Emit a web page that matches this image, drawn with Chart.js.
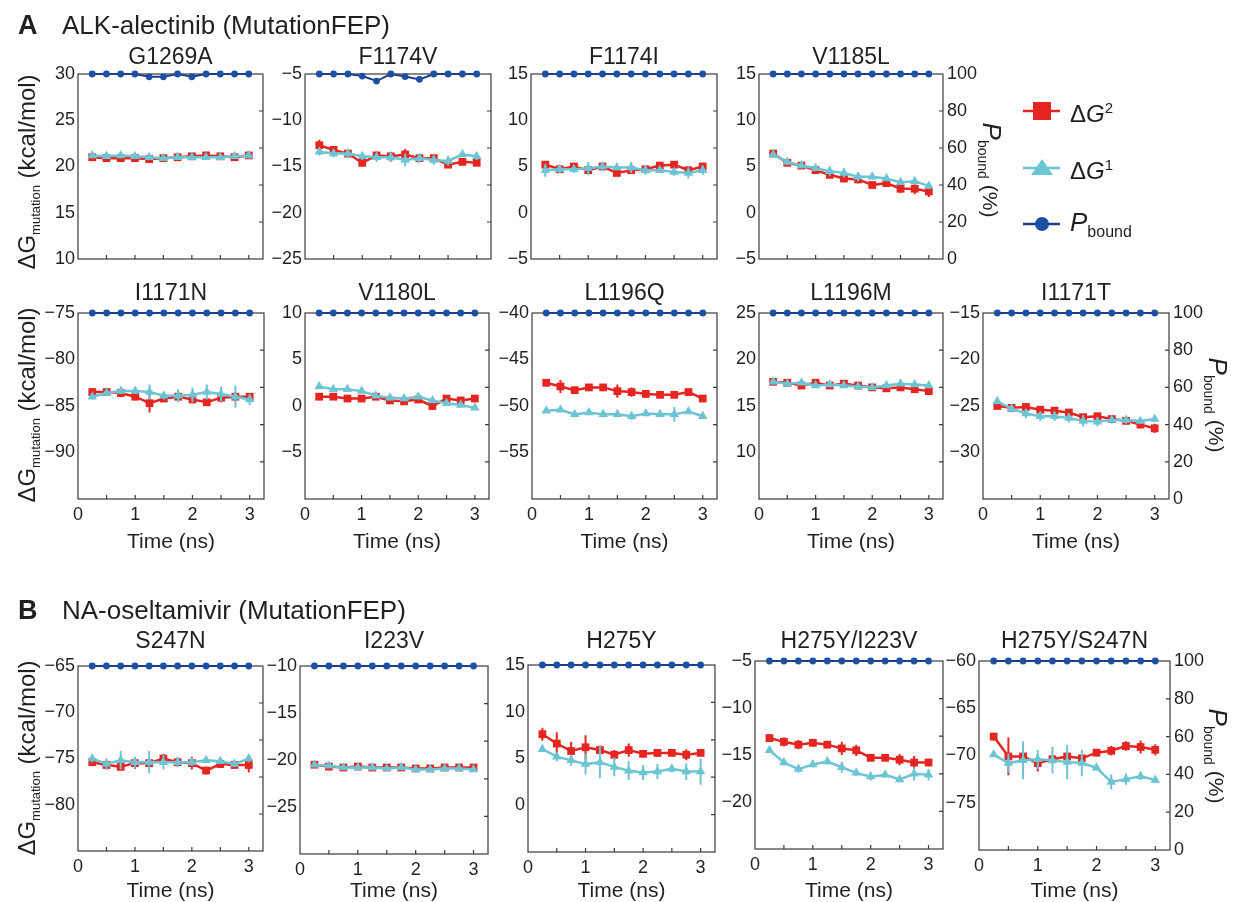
<!DOCTYPE html>
<html>
<head>
<meta charset="utf-8">
<script src="https://cdn.jsdelivr.net/npm/chart.js@4.4.0/dist/chart.umd.min.js"></script>
<style>
  body { margin: 0; background: #fff; width: 1241px; height: 902px; position: relative; overflow: hidden; }
  canvas { position: absolute; left: 0; top: 0; }
</style>
</head>
<body>
<script>
// sampling times (ns)
const time = [0.25, 0.5, 0.75, 1, 1.25, 1.5, 1.75, 2, 2.25, 2.5, 2.75, 3];
const xMinorTicks = [0.5, 1, 1.5, 2, 2.5, 3];
const xLabelTicks = [0, 1, 2, 3];
const pbTicks = [0, 20, 40, 60, 80, 100];
const pbMinorTicks = [20, 40, 60, 80];

const pbFull = [100, 100, 100, 100, 100, 100, 100, 100, 100, 100, 100, 100];

// ALK-alectinib
const g1269aDG2 = [21.0, 20.9, 20.9, 20.9, 20.8, 20.9, 21.0, 21.1, 21.2, 21.1, 21.0, 21.2];
const g1269aDG2Err = [0.3, 0.3, 0.3, 0.3, 0.25, 0.3, 0.3, 0.3, 0.3, 0.3, 0.3, 0.3];
const g1269aDG1 = [21.2, 21.1, 21.2, 21.1, 21.0, 20.9, 21.0, 21.0, 21.0, 21.0, 21.1, 21.2];
const g1269aDG1Err = [0.3, 0.25, 0.3, 0.3, 0.3, 0.25, 0.3, 0.25, 0.3, 0.25, 0.3, 0.3];
const g1269aPb = [100, 100, 100, 100, 98.5, 98.5, 100, 98.5, 100, 100, 100, 100];

const f1174vDG2 = [-12.7, -13.2, -13.6, -14.6, -13.8, -13.9, -13.7, -14.1, -14.1, -14.8, -14.5, -14.6];
const f1174vDG2Err = [0.6, 0.4, 0.4, 0.4, 0.4, 0.5, 0.6, 0.4, 0.4, 0.3, 0.3, 0.3];
const f1174vDG1 = [-13.4, -13.6, -13.6, -13.9, -14.0, -14.0, -14.3, -14.1, -14.3, -14.4, -13.7, -13.9];
const f1174vDG1Err = [0.4, 0.4, 0.4, 0.4, 0.5, 0.5, 0.7, 0.5, 0.5, 0.5, 0.3, 0.4];
const f1174vPb = [100, 100, 100, 98.9, 96.2, 100, 98.6, 97.1, 100, 100, 100, 100];

const f1174iDG2 = [5.2, 4.7, 5.0, 4.6, 5.0, 4.3, 4.6, 4.7, 5.1, 5.2, 4.6, 5.0];
const f1174iDG2Err = [0.4, 0.3, 0.3, 0.4, 0.4, 0.3, 0.3, 0.3, 0.3, 0.3, 0.3, 0.4];
const f1174iDG1 = [4.6, 4.7, 4.7, 4.8, 5.0, 4.9, 4.9, 4.6, 4.6, 4.4, 4.3, 4.6];
const f1174iDG1Err = [0.7, 0.4, 0.4, 0.7, 0.5, 0.3, 0.6, 0.5, 0.3, 0.4, 0.6, 0.5];

const v1185lDG2 = [6.4, 5.4, 5.1, 4.6, 4.1, 3.7, 3.6, 3.0, 3.2, 2.6, 2.6, 2.3];
const v1185lDG2Err = [0.3, 0.3, 0.3, 0.3, 0.3, 0.4, 0.4, 0.3, 0.3, 0.5, 0.6, 0.6];
const v1185lDG1 = [6.3, 5.5, 5.1, 4.8, 4.5, 4.3, 3.9, 3.9, 3.7, 3.3, 3.4, 2.9];
const v1185lDG1Err = [0.3, 0.3, 0.3, 0.3, 0.5, 0.5, 0.5, 0.3, 0.3, 0.3, 0.4, 0.3];

const i1171nDG2 = [-83.5, -83.5, -83.6, -84.0, -84.7, -84.2, -84.0, -84.3, -84.6, -84.1, -84.0, -84.0];
const i1171nDG2Err = [0.4, 0.3, 0.4, 0.3, 1.0, 0.3, 0.5, 0.4, 0.4, 0.5, 0.5, 0.4];
const i1171nDG1 = [-84.0, -83.6, -83.4, -83.4, -83.5, -83.9, -83.9, -83.8, -83.5, -83.7, -84.0, -84.3];
const i1171nDG1Err = [0.3, 0.3, 0.3, 0.3, 0.8, 0.4, 0.7, 0.8, 0.8, 0.8, 1.2, 0.6];

const v1180lDG2 = [1.0, 1.0, 0.8, 0.8, 1.0, 0.6, 0.5, 0.7, 0.0, 0.8, 0.6, 0.8];
const v1180lDG2Err = [0.3, 0.3, 0.3, 0.3, 0.3, 0.3, 0.3, 0.3, 0.4, 0.3, 0.3, 0.3];
const v1180lDG1 = [2.1, 1.8, 1.8, 1.6, 1.1, 0.9, 0.8, 1.0, 0.6, 0.3, 0.1, -0.2];
const v1180lDG1Err = [0.2, 0.2, 0.2, 0.2, 0.2, 0.3, 0.3, 0.2, 0.2, 0.3, 0.3, 0.2];

const l1196qDG2 = [-47.5, -47.9, -48.3, -48.0, -48.0, -48.4, -48.5, -48.7, -48.8, -48.8, -48.5, -49.2];
const l1196qDG2Err = [0.4, 0.7, 0.3, 0.3, 0.3, 0.7, 0.5, 0.4, 0.3, 0.3, 0.3, 0.3];
const l1196qDG1 = [-50.5, -50.4, -50.9, -50.7, -50.9, -50.9, -51.1, -50.8, -50.9, -50.9, -50.6, -51.1];
const l1196qDG1Err = [0.2, 0.2, 0.3, 0.3, 0.3, 0.3, 0.4, 0.3, 0.3, 0.8, 0.2, 0.2];

const l1196mDG2 = [17.6, 17.5, 17.2, 17.5, 17.2, 17.4, 17.2, 17.0, 16.9, 17.0, 16.8, 16.6];
const l1196mDG2Err = [0.3, 0.3, 0.3, 0.3, 0.3, 0.3, 0.3, 0.3, 0.3, 0.3, 0.3, 0.3];
const l1196mDG1 = [17.6, 17.4, 17.5, 17.2, 17.3, 17.2, 17.1, 17.0, 17.2, 17.4, 17.3, 17.2];
const l1196mDG1Err = [0.3, 0.3, 0.2, 0.2, 0.2, 0.2, 0.2, 0.2, 0.2, 0.2, 0.2, 0.2];

const i1171tDG2 = [-25.0, -25.2, -25.1, -25.4, -25.5, -25.7, -26.2, -26.1, -26.4, -26.6, -27.0, -27.4];
const i1171tDG2Err = [0.3, 0.3, 0.3, 0.3, 0.3, 0.3, 0.3, 0.3, 0.3, 0.3, 0.4, 0.5];
const i1171tDG1 = [-24.5, -25.3, -25.8, -26.1, -26.1, -26.3, -26.6, -26.7, -26.5, -26.5, -26.6, -26.4];
const i1171tDG1Err = [0.3, 0.4, 0.5, 0.5, 0.5, 0.5, 0.6, 0.5, 0.4, 0.4, 0.3, 0.3];

// NA-oseltamivir
const s247nDG2 = [-75.4, -75.7, -75.9, -75.5, -75.5, -75.0, -75.4, -75.5, -76.3, -75.6, -75.7, -75.7];
const s247nDG2Err = [0.4, 0.5, 0.4, 0.6, 0.5, 0.5, 0.5, 0.7, 0.4, 0.4, 0.4, 0.8];
const s247nDG1 = [-75.0, -75.6, -75.2, -75.4, -75.4, -75.4, -75.4, -75.4, -75.2, -75.3, -75.6, -75.0];
const s247nDG1Err = [0.4, 0.6, 1.0, 0.6, 1.2, 0.8, 0.5, 0.4, 0.3, 0.3, 0.3, 0.4];

const i223vDG2 = [-20.5, -20.7, -20.8, -20.7, -20.8, -20.8, -20.8, -20.9, -20.9, -20.8, -20.8, -20.8];
const i223vDG2Err = [0.3, 0.3, 0.3, 0.3, 0.3, 0.3, 0.3, 0.3, 0.3, 0.3, 0.3, 0.3];
const i223vDG1 = [-20.5, -20.6, -20.8, -20.8, -20.8, -20.9, -20.8, -21.0, -21.0, -20.9, -20.9, -21.0];
const i223vDG1Err = [0.2, 0.2, 0.2, 0.2, 0.2, 0.2, 0.2, 0.2, 0.2, 0.2, 0.2, 0.2];

const h275yDG2 = [7.6, 6.6, 5.8, 6.2, 5.9, 5.4, 5.9, 5.5, 5.6, 5.6, 5.4, 5.6];
const h275yDG2Err = [0.7, 1.2, 1.0, 1.3, 0.5, 0.5, 0.7, 0.4, 0.4, 0.3, 0.6, 0.3];
const h275yDG1 = [6.0, 5.2, 4.8, 4.4, 4.6, 4.1, 3.7, 3.5, 3.6, 3.9, 3.6, 3.6];
const h275yDG1Err = [0.3, 0.5, 0.6, 1.1, 1.7, 1.0, 1.0, 0.8, 0.8, 0.4, 0.9, 1.4];

const h275yI223vDG2 = [-13.2, -13.6, -13.9, -13.7, -13.9, -14.3, -14.5, -15.3, -15.3, -15.5, -15.8, -15.8];
const h275yI223vDG2Err = [0.4, 0.5, 0.5, 0.4, 0.3, 0.7, 0.6, 0.4, 0.3, 0.6, 0.7, 0.4];
const h275yI223vDG1 = [-14.5, -15.8, -16.5, -16.0, -15.7, -16.3, -16.9, -17.3, -17.1, -17.6, -17.0, -17.1];
const h275yI223vDG1Err = [0.3, 0.3, 0.4, 0.3, 0.3, 0.6, 0.3, 0.4, 0.3, 0.3, 0.7, 0.6];

const h275yS247nDG2 = [-68.0, -70.1, -70.1, -70.8, -70.4, -70.1, -70.3, -69.7, -69.5, -69.0, -69.1, -69.4];
const h275yS247nDG2Err = [0.4, 2.0, 0.3, 0.9, 0.3, 0.3, 0.3, 0.4, 0.5, 0.5, 0.7, 0.6];
const h275yS247nDG1 = [-69.9, -70.8, -70.5, -70.4, -70.5, -70.7, -70.8, -71.3, -72.8, -72.5, -72.2, -72.6];
const h275yS247nDG1Err = [0.2, 1.0, 2.0, 1.0, 1.4, 1.8, 1.4, 0.2, 0.8, 0.6, 0.4, 0.3];

const W = 1241, H = 902;
const AXIS_W = 60, AXIS_H = 30;   // room kept for tick labels around each plot
const FONT = 'Arial, "Liberation Sans", Helvetica, sans-serif';
const INK = '#231f20';
const RED = '#e52521', CYAN = '#6dc5d4', NAVY = '#1c3f8c', BLUE = '#1d4fa3';

Chart.defaults.font.family = FONT;
Chart.defaults.color = INK;

// each panel: plot rectangle [left, top, right, bottom] in page pixels
const panels = [
  { title: 'G1269A', rect: [78, 74, 263, 259], y: [10, 30], yTicks: [10, 15, 20, 25, 30],
    dg2: g1269aDG2, dg2Err: g1269aDG2Err, dg1: g1269aDG1, dg1Err: g1269aDG1Err, pb: g1269aPb,
    titleY: 64, ylabelY: 172, header: { tag: 'A', text: 'ALK-alectinib (MutationFEP)', y: 34 } },
  { title: 'F1174V', rect: [305, 74, 491, 259], y: [-25, -5], yTicks: [-25, -20, -15, -10, -5],
    dg2: f1174vDG2, dg2Err: f1174vDG2Err, dg1: f1174vDG1, dg1Err: f1174vDG1Err, pb: f1174vPb, titleY: 64 },
  { title: 'F1174I', rect: [531, 74, 717, 259], y: [-5, 15], yTicks: [-5, 0, 5, 10, 15],
    dg2: f1174iDG2, dg2Err: f1174iDG2Err, dg1: f1174iDG1, dg1Err: f1174iDG1Err, pb: pbFull, titleY: 64 },
  { title: 'V1185L', rect: [759, 74, 943, 259], y: [-5, 15], yTicks: [-5, 0, 5, 10, 15],
    dg2: v1185lDG2, dg2Err: v1185lDG2Err, dg1: v1185lDG1, dg1Err: v1185lDG1Err, pb: pbFull, titleY: 64,
    right: { x: 983, y: 170 }, legend: true },

  { title: 'I1171N', rect: [78, 313, 264, 499], y: [-95, -75], yTicks: [-90, -85, -80, -75],
    dg2: i1171nDG2, dg2Err: i1171nDG2Err, dg1: i1171nDG1, dg1Err: i1171nDG1Err, pb: pbFull,
    titleY: 300, xLabels: true, timeY: 548, ylabelY: 405 },
  { title: 'V1180L', rect: [305, 313, 489, 499], y: [-10, 10], yTicks: [-5, 0, 5, 10],
    dg2: v1180lDG2, dg2Err: v1180lDG2Err, dg1: v1180lDG1, dg1Err: v1180lDG1Err, pb: pbFull,
    titleY: 300, xLabels: true, timeY: 548 },
  { title: 'L1196Q', rect: [532, 313, 717, 499], y: [-60, -40], yTicks: [-55, -50, -45, -40],
    dg2: l1196qDG2, dg2Err: l1196qDG2Err, dg1: l1196qDG1, dg1Err: l1196qDG1Err, pb: pbFull,
    titleY: 300, xLabels: true, timeY: 548 },
  { title: 'L1196M', rect: [759, 313, 943, 499], y: [5, 25], yTicks: [10, 15, 20, 25],
    dg2: l1196mDG2, dg2Err: l1196mDG2Err, dg1: l1196mDG1, dg1Err: l1196mDG1Err, pb: pbFull,
    titleY: 300, xLabels: true, timeY: 548 },
  { title: 'I1171T', rect: [983, 313, 1169, 499], y: [-35, -15], yTicks: [-30, -25, -20, -15],
    dg2: i1171tDG2, dg2Err: i1171tDG2Err, dg1: i1171tDG1, dg1Err: i1171tDG1Err, pb: pbFull,
    titleY: 300, xLabels: true, timeY: 548, right: { x: 1209, y: 405 } },

  { title: 'S247N', rect: [78, 666, 263, 851], y: [-85, -65], yTicks: [-80, -75, -70, -65],
    dg2: s247nDG2, dg2Err: s247nDG2Err, dg1: s247nDG1, dg1Err: s247nDG1Err, pb: pbFull,
    titleY: 648, xLabels: true, timeY: 897, ylabelY: 758,
    header: { tag: 'B', text: 'NA-oseltamivir (MutationFEP)', y: 619 } },
  { title: 'I223V', rect: [300, 666, 488, 854], y: [-30, -10], yTicks: [-25, -20, -15, -10],
    dg2: i223vDG2, dg2Err: i223vDG2Err, dg1: i223vDG1, dg1Err: i223vDG1Err, pb: pbFull,
    titleY: 648, xLabels: true, timeY: 897 },
  { title: 'H275Y', rect: [528, 665, 715, 852], y: [-5, 15], yTicks: [0, 5, 10, 15],
    dg2: h275yDG2, dg2Err: h275yDG2Err, dg1: h275yDG1, dg1Err: h275yDG1Err, pb: pbFull,
    titleY: 648, xLabels: true, timeY: 897 },
  { title: 'H275Y/I223V', rect: [755, 661, 943, 849], y: [-25, -5], yTicks: [-20, -15, -10, -5],
    dg2: h275yI223vDG2, dg2Err: h275yI223vDG2Err, dg1: h275yI223vDG1, dg1Err: h275yI223vDG1Err, pb: pbFull,
    titleY: 648, xLabels: true, timeY: 897 },
  { title: 'H275Y/S247N', rect: [979, 661, 1170, 850], y: [-80, -60], yTicks: [-75, -70, -65, -60],
    dg2: h275yS247nDG2, dg2Err: h275yS247nDG2Err, dg1: h275yS247nDG1, dg1Err: h275yS247nDG1Err, pb: pbFull,
    titleY: 648, xLabels: true, timeY: 897, right: { x: 1209, y: 756 } }
];

function fmt(v) { return v < 0 ? '\u2212' + Math.abs(v) : String(v); }
function pts(ys) { return time.map((t, i) => ({ x: t, y: ys[i] })); }

// text made of runs with different fonts / baseline shifts, optionally rotated
function richText(ctx, parts, x, y, angle, align) {
  ctx.save();
  ctx.translate(x, y);
  ctx.rotate(angle || 0);
  ctx.textAlign = 'left';
  ctx.textBaseline = 'alphabetic';
  let total = 0;
  parts.forEach(p => { ctx.font = p.font; p.w = ctx.measureText(p.text).width; total += p.w; });
  let cx = align === 'center' ? -total / 2 : 0;
  parts.forEach(p => { ctx.font = p.font; ctx.fillText(p.text, cx, p.dy || 0); cx += p.w; });
  ctx.restore();
}

function drawLegend(ctx) {
  const x0 = 1023, x1 = 1060, mx = 1042, tx = 1070;
  ctx.save();
  ctx.lineWidth = 2.5;
  // ΔG2
  ctx.strokeStyle = RED; ctx.fillStyle = RED;
  ctx.beginPath(); ctx.moveTo(x0, 111); ctx.lineTo(x1, 111); ctx.stroke();
  ctx.fillRect(mx - 9, 102, 18, 18);
  // ΔG1
  ctx.strokeStyle = CYAN; ctx.fillStyle = CYAN;
  ctx.beginPath(); ctx.moveTo(x0, 168); ctx.lineTo(x1, 168); ctx.stroke();
  ctx.beginPath(); ctx.moveTo(mx, 159); ctx.lineTo(mx - 11, 175); ctx.lineTo(mx + 11, 175); ctx.closePath(); ctx.fill();
  // Pbound
  ctx.strokeStyle = NAVY; ctx.fillStyle = BLUE;
  ctx.beginPath(); ctx.moveTo(x0, 224); ctx.lineTo(x1, 224); ctx.stroke();
  ctx.beginPath(); ctx.arc(mx, 224, 7, 0, Math.PI * 2); ctx.fill();
  ctx.restore();

  ctx.save();
  ctx.fillStyle = INK;
  richText(ctx, [
    { text: '\u0394', font: '24px ' + FONT },
    { text: 'G', font: 'italic 24px ' + FONT },
    { text: '2', font: '15px ' + FONT, dy: -9 }
  ], tx, 122);
  richText(ctx, [
    { text: '\u0394', font: '24px ' + FONT },
    { text: 'G', font: 'italic 24px ' + FONT },
    { text: '1', font: '15px ' + FONT, dy: -9 }
  ], tx, 179);
  richText(ctx, [
    { text: 'P', font: 'italic 26px ' + FONT },
    { text: 'bound', font: '16px ' + FONT, dy: 6 }
  ], tx, 231);
  ctx.restore();
}

function decoPlugin(p) {
  return {
    id: 'deco',
    beforeDatasetsDraw(chart) {
      const { ctx, chartArea: a, scales } = chart;
      ctx.save();
      ctx.strokeStyle = '#3a3a3a';
      ctx.lineWidth = 1.2;
      ctx.strokeRect(a.left, a.top, a.right - a.left, a.bottom - a.top);
      ctx.beginPath();
      xMinorTicks.forEach(v => {
        const px = scales.x.getPixelForValue(v);
        ctx.moveTo(px, a.bottom); ctx.lineTo(px, a.bottom - 4);
      });
      pbMinorTicks.forEach(v => {
        const py = scales.y2.getPixelForValue(v);
        ctx.moveTo(a.right, py); ctx.lineTo(a.right - 4, py);
      });
      ctx.stroke();
      ctx.restore();
    },
    beforeDatasetDraw(chart, args) {
      const ds = chart.data.datasets[args.index];
      if (!ds.errors) return;
      const { ctx } = chart;
      const xs = chart.scales.x, ys = chart.scales.y;
      ctx.save();
      ctx.strokeStyle = ds.borderColor;
      ctx.lineWidth = 2;
      ctx.beginPath();
      ds.data.forEach((pt, i) => {
        const px = xs.getPixelForValue(pt.x);
        ctx.moveTo(px, ys.getPixelForValue(pt.y - ds.errors[i]));
        ctx.lineTo(px, ys.getPixelForValue(pt.y + ds.errors[i]));
      });
      ctx.stroke();
      ctx.restore();
    },
    afterDraw(chart) {
      const { ctx, chartArea: a } = chart;
      const cx = (a.left + a.right) / 2;
      ctx.save();
      ctx.fillStyle = INK;
      ctx.textAlign = 'center';
      ctx.textBaseline = 'alphabetic';
      ctx.font = '23px ' + FONT;
      ctx.fillText(p.title, cx, p.titleY);
      if (p.timeY) {
        ctx.font = '21px ' + FONT;
        ctx.fillText('Time (ns)', cx, p.timeY);
      }
      if (p.header) {
        ctx.textAlign = 'left';
        ctx.font = 'bold 27px ' + FONT;
        ctx.fillText(p.header.tag, 18, p.header.y);
        ctx.font = '26px ' + FONT;
        ctx.fillText(p.header.text, 62, p.header.y);
      }
      if (p.ylabelY) {
        richText(ctx, [
          { text: '\u0394G', font: '24px ' + FONT },
          { text: 'mutation', font: '13px ' + FONT, dy: 5 },
          { text: ' (kcal/mol)', font: '24px ' + FONT }
        ], 35, p.ylabelY, -Math.PI / 2, 'center');
      }
      if (p.right) {
        richText(ctx, [
          { text: 'P', font: 'italic 26px ' + FONT },
          { text: 'bound', font: '14px ' + FONT, dy: 5 },
          { text: ' (%)', font: '21px ' + FONT }
        ], p.right.x, p.right.y, Math.PI / 2, 'center');
      }
      ctx.restore();
      if (p.legend) drawLegend(ctx);
    }
  };
}

panels.forEach(p => {
  const canvas = document.createElement('canvas');
  canvas.width = W;
  canvas.height = H;
  document.body.appendChild(canvas);
  const [l, t, r, b] = p.rect;
  const fixW = s => { s.width = AXIS_W; };
  const fixH = s => { s.height = AXIS_H; };
  const noGrid = { display: false, drawTicks: false };

  new Chart(canvas.getContext('2d'), {
    type: 'line',
    data: {
      datasets: [
        { label: 'Pbound', data: pts(p.pb), yAxisID: 'y2', order: 0, clip: false,
          borderColor: NAVY, borderWidth: 2, backgroundColor: BLUE,
          pointBackgroundColor: BLUE, pointBorderWidth: 0, pointRadius: 3.4 },
        { label: 'ΔG1', data: pts(p.dg1), errors: p.dg1Err, yAxisID: 'y', order: 1, clip: false,
          borderColor: CYAN, borderWidth: 2.5, backgroundColor: CYAN,
          pointStyle: 'triangle', pointBackgroundColor: CYAN, pointBorderWidth: 0, pointRadius: 5.5 },
        { label: 'ΔG2', data: pts(p.dg2), errors: p.dg2Err, yAxisID: 'y', order: 2, clip: false,
          borderColor: RED, borderWidth: 2.5, backgroundColor: RED,
          pointStyle: 'rect', pointBackgroundColor: RED, pointBorderWidth: 0, pointRadius: 5.5 }
      ]
    },
    options: {
      responsive: false,
      animation: false,
      devicePixelRatio: 1,
      events: [],
      layout: { padding: { left: l - AXIS_W, top: t, right: W - r - AXIS_W, bottom: H - b - AXIS_H } },
      plugins: { legend: { display: false }, tooltip: { enabled: false }, title: { display: false } },
      scales: {
        x: {
          type: 'linear', min: 0, max: 3.25,
          grid: noGrid, border: { display: false },
          ticks: { display: !!p.xLabels, font: { size: 18 }, color: INK, padding: 5, maxRotation: 0, autoSkip: false, callback: fmt },
          afterBuildTicks: s => { s.ticks = xLabelTicks.map(v => ({ value: v })); },
          afterFit: fixH
        },
        y: {
          type: 'linear', position: 'left', min: p.y[0], max: p.y[1],
          grid: noGrid, border: { display: false },
          ticks: { font: { size: 18 }, color: INK, padding: 3, autoSkip: false, callback: fmt },
          afterBuildTicks: s => { s.ticks = p.yTicks.map(v => ({ value: v })); },
          afterFit: fixW
        },
        y2: {
          type: 'linear', position: 'right', min: 0, max: 100,
          grid: noGrid, border: { display: false },
          ticks: { display: !!p.right, font: { size: 18 }, color: INK, padding: 4, autoSkip: false, callback: fmt },
          afterBuildTicks: s => { s.ticks = pbTicks.map(v => ({ value: v })); },
          afterFit: fixW
        }
      }
    },
    plugins: [decoPlugin(p)]
  });
});
</script>
</body>
</html>
